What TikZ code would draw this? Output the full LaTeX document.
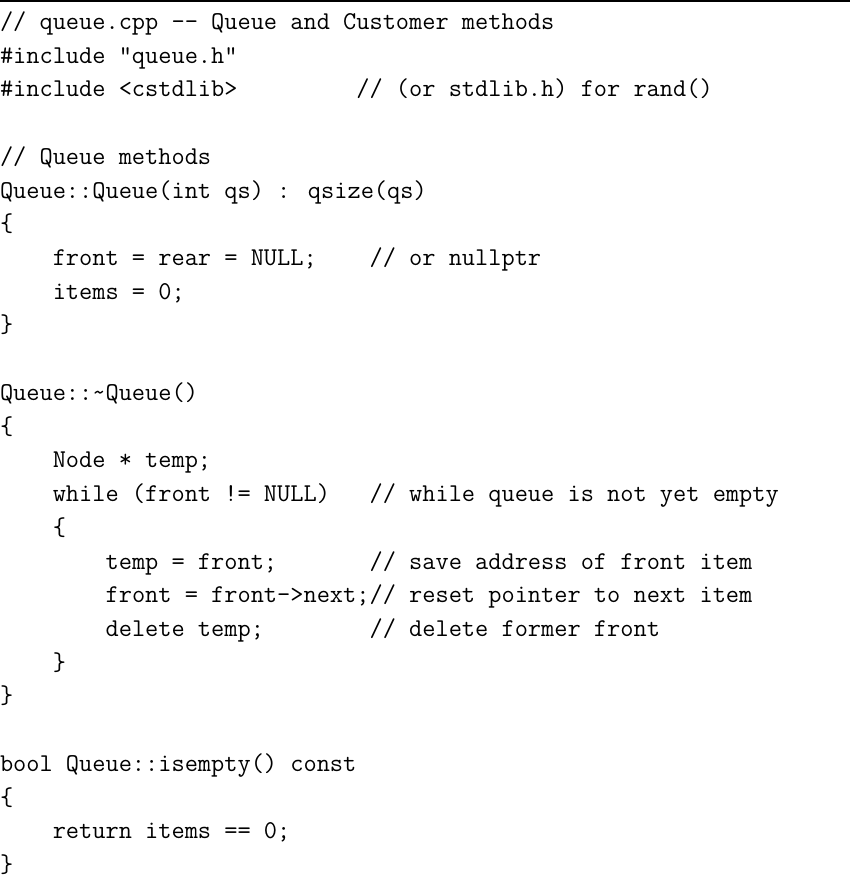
\documentclass[tikz,border=0pt]{standalone}
\begin{document}
\begin{tikzpicture}[x=1pt,y=1pt,
  code/.style={anchor=base west,inner sep=0pt,outer sep=0pt,font=\ttfamily\fontsize{25.63pt}{33.72pt}\selectfont},
  toprule/.style={line width=1.6pt,black}]
\useasboundingbox (0,0) rectangle (850,-878);
\def\cw{13.2}
\def\ls{33.72}
\def\by{29.5}
\newcommand{\cl}[3]{\node[code] (l#1) at ({#2*\cw},{-(\by+(#1-1)*\ls)}) {#3};}
\coordinate (ruleL) at (0,-0.8);
\coordinate (ruleR) at (850,-0.8);
\draw[toprule] (ruleL) -- (ruleR);
\cl{1}{0}{// queue.cpp -- Queue and Customer methods}
\cl{2}{0}{\#include "queue.h"}
\cl{3}{0}{\#include <cstdlib>~~~~~~~~~// (or stdlib.h) for rand()}
\cl{5}{0}{// Queue methods}
\cl{6}{0}{Queue::Queue(int qs) : qsize(qs)}
\cl{7}{0}{\{}
\cl{8}{4}{front = rear = NULL;~~~~// or nullptr}
\cl{9}{4}{items = 0;}
\cl{10}{0}{\}}
\cl{12}{0}{Queue::\textasciitilde Queue()}
\cl{13}{0}{\{}
\cl{14}{4}{Node * temp;}
\cl{15}{4}{while (front != NULL)~~~// while queue is not yet empty}
\cl{16}{4}{\{}
\cl{17}{8}{temp = front;~~~~~~~// save address of front item}
\cl{18}{8}{front = front->next;// reset pointer to next item}
\cl{19}{8}{delete temp;~~~~~~~~// delete former front}
\cl{20}{4}{\}}
\cl{21}{0}{\}}
\cl{23}{0}{bool Queue::isempty() const}
\cl{24}{0}{\{}
\cl{25}{4}{return items == 0;}
\cl{26}{0}{\}}
\end{tikzpicture}
\end{document}
